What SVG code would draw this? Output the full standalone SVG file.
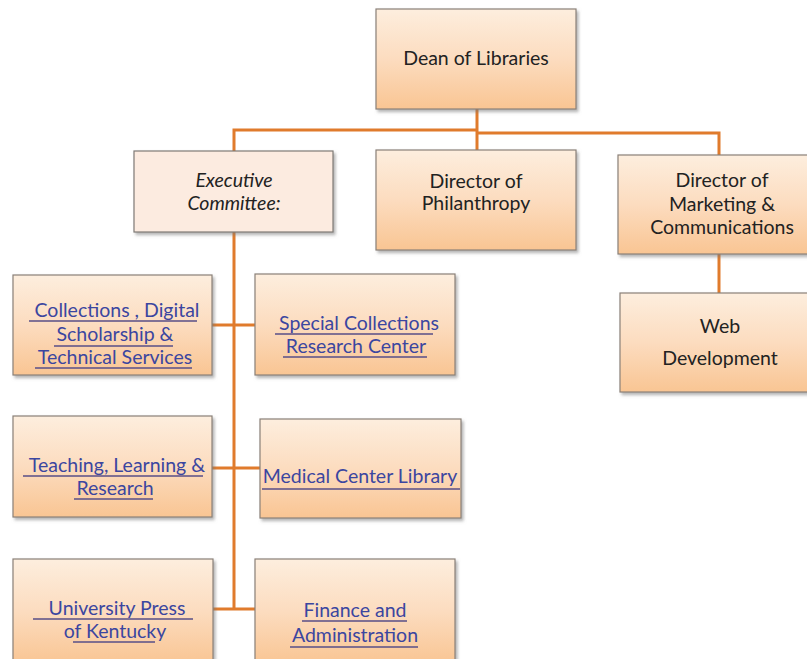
<svg xmlns="http://www.w3.org/2000/svg" width="807" height="659" viewBox="0 0 807 659">
<style>
.box{fill:url(#g);stroke:#8a8078;stroke-width:1.2;filter:url(#sh)}
.exec{fill:#fcebe0;stroke:#7f7a76;stroke-width:1.2;filter:url(#sh)}
.t{font-family:Lato,"Liberation Sans",sans-serif;font-size:19.5px;fill:#222;text-anchor:middle}
.l{font-family:Lato,"Liberation Sans",sans-serif;font-size:19.5px;fill:#3b46a0;text-anchor:middle}
.u{stroke:#62568a;stroke-width:2;stroke-opacity:0.8}
.c{stroke:#e07b2c;stroke-width:3;fill:none}
</style>
<defs>
<linearGradient id="g" x1="0" y1="0" x2="0" y2="1">
<stop offset="0" stop-color="#fdeede"/>
<stop offset="0.5" stop-color="#fcdcbf"/>
<stop offset="1" stop-color="#f9c593"/>
</linearGradient>
<filter id="sh" x="-10%" y="-10%" width="120%" height="130%">
<feDropShadow dx="2" dy="2.5" stdDeviation="1.5" flood-color="#777" flood-opacity="0.55"/>
</filter>
</defs>
<rect width="807" height="659" fill="#fff"/>
<g id="connectors">
<path class="c" d="M477 109 V150"/>
<path class="c" d="M234 151 V130 H477"/>
<path class="c" d="M477 133 H719 V155"/>
<path class="c" d="M719 254 V293"/>
<path class="c" d="M234 232 V609"/>
<path class="c" d="M212 325 H255"/>
<path class="c" d="M212 468 H260"/>
<path class="c" d="M213 609 H255"/>
</g>
<g id="dean">
<rect class="box" x="376" y="9" width="200" height="100"/>
<text class="t" x="476" y="65">Dean of Libraries</text>
</g>
<g id="executive">
<rect class="exec" x="134" y="151" width="199" height="81"/>
<text class="t" x="234" y="187" font-style="italic">Executive</text>
<text class="t" x="234" y="210" font-style="italic">Committee:</text>
</g>
<g id="philanthropy">
<rect class="box" x="376" y="150" width="200" height="100"/>
<text class="t" x="476" y="188">Director of</text>
<text class="t" x="476" y="210">Philanthropy</text>
</g>
<g id="marketing">
<rect class="box" x="618" y="155" width="200" height="99"/>
<text class="t" x="722" y="187">Director of</text>
<text class="t" x="722" y="211">Marketing &amp;</text>
<text class="t" x="722" y="234">Communications</text>
</g>
<g id="web">
<rect class="box" x="620" y="293" width="200" height="99"/>
<text class="t" x="720" y="333">Web</text>
<text class="t" x="720" y="365">Development</text>
</g>
<g id="collections">
<rect class="box" x="13" y="275" width="199" height="100"/>
<text class="l" x="117" y="317"> Collections , Digital</text>
<text class="l" x="115" y="341">Scholarship &amp;</text>
<text class="l" x="115" y="364">Technical Services</text>
<line class="u" x1="29" y1="321" x2="197" y2="321"/>
<line class="u" x1="54" y1="346" x2="173" y2="346"/>
<line class="u" x1="35" y1="368" x2="192" y2="368"/>
</g>
<g id="special">
<rect class="box" x="255" y="274" width="200" height="101"/>
<text class="l" x="359" y="330">Special Collections</text>
<text class="l" x="356" y="353">Research Center</text>
<line class="u" x1="275" y1="334" x2="433" y2="334"/>
<line class="u" x1="283" y1="357" x2="427" y2="357"/>
</g>
<g id="teaching">
<rect class="box" x="13" y="416" width="199" height="101"/>
<text class="l" x="117" y="472">Teaching, Learning &amp;</text>
<text class="l" x="115" y="495">Research</text>
<line class="u" x1="23" y1="476" x2="203" y2="476"/>
<line class="u" x1="74" y1="499" x2="153" y2="499"/>
</g>
<g id="medical">
<rect class="box" x="260" y="419" width="201" height="99"/>
<text class="l" x="360" y="483">Medical Center Library</text>
<line class="u" x1="262" y1="489" x2="460" y2="489"/>
</g>
<g id="press">
<rect class="box" x="13" y="559" width="200" height="105"/>
<text class="l" x="117" y="615">University Press</text>
<text class="l" x="115" y="638">of Kentucky</text>
<line class="u" x1="33" y1="619" x2="193" y2="619"/>
<line class="u" x1="73" y1="642" x2="155" y2="642"/>
</g>
<g id="finance">
<rect class="box" x="255" y="559" width="200" height="105"/>
<text class="l" x="355" y="617">Finance and</text>
<text class="l" x="355" y="642">Administration</text>
<line class="u" x1="302" y1="621" x2="407" y2="621"/>
<line class="u" x1="290" y1="647" x2="418" y2="647"/>
</g>
</svg>
